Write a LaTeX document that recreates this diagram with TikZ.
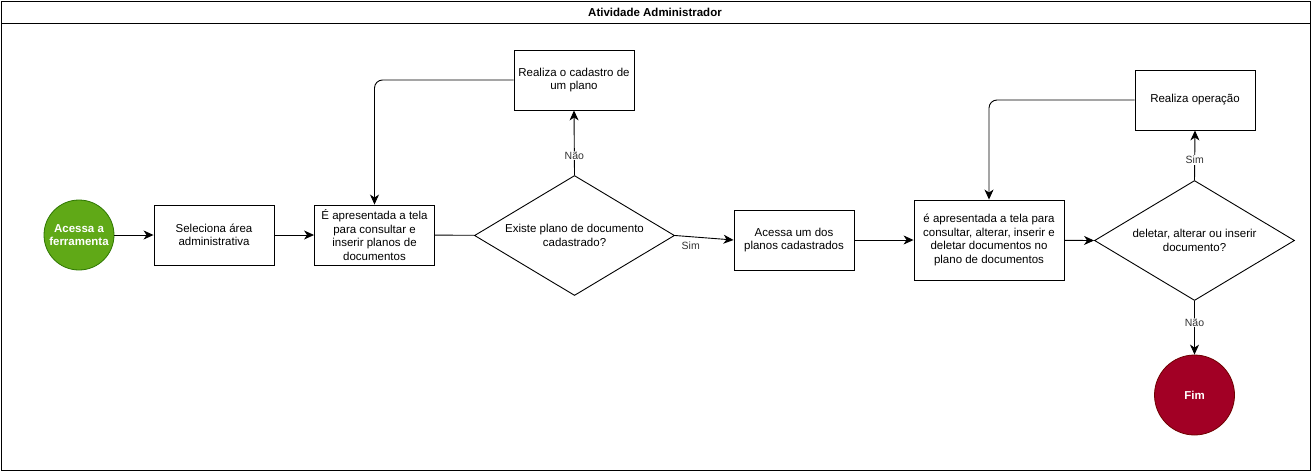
\documentclass[tikz,border=0pt]{standalone}
\usepackage{fontspec}
\setmainfont{Liberation Sans}
\usetikzlibrary{arrows.meta,shapes.geometric}
\definecolor{startg}{HTML}{60A917}
\definecolor{startgs}{HTML}{2D7600}
\definecolor{endr}{HTML}{A20025}
\definecolor{endrs}{HTML}{6F0000}
\definecolor{lbl}{HTML}{333333}
\begin{document}
\begin{tikzpicture}[x=1pt,y=-1pt,
  font=\fontsize{11.5}{13.5}\selectfont,
  proc/.style={draw,line width=0.9pt,minimum width=#1,align=center,inner sep=1pt},
  proc/.default=120pt,
  dec/.style={draw,line width=0.9pt,diamond,aspect=1.667,inner sep=0pt,minimum width=200pt,minimum height=120pt,align=center},
  term/.style={circle,draw,line width=0.8pt,minimum size=#1,inner sep=0pt,text=white,font=\fontsize{11.5}{13.5}\selectfont\bfseries,align=center},
  conn/.style={line width=0.9pt,-{Stealth[length=10pt,width=9pt,inset=3pt]}},
  plain/.style={line width=0.9pt},
  elabel/.style={fill=white,text=lbl,font=\fontsize{10.5}{12.5}\selectfont,inner sep=1pt}
]
\useasboundingbox (0,0) rectangle (1311,471);
\draw[line width=1pt] (1,1) rectangle (1310,470);
\draw[line width=1pt] (1,23) -- (1310,23);
\node[font=\fontsize{11.5}{13.5}\selectfont\bfseries] (title) at (655,12) {Atividade Administrador};

\node[term=70pt,fill=startg,draw=startgs] (start) at (79,235) {Acessa a\\ferramenta};
\node[proc,minimum height=60pt] (sel) at (214,235) {Seleciona área\\administrativa};
\node[proc,minimum height=60pt] (e1) at (374.5,235) {É apresentada a tela\\para consultar e\\inserir planos de\\documentos};
\node[dec] (d1) at (574.5,235.5) {Existe plano de documento\\cadastrado?};
\node[proc,minimum height=60pt] (cad) at (574,80) {Realiza o cadastro de\\um plano};
\node[proc,minimum height=60pt] (ac) at (794,240) {Acessa um dos\\planos cadastrados};
\node[proc=150pt,minimum height=80pt] (e2) at (989,240) {é apresentada a tela para\\consultar, alterar, inserir e\\deletar documentos no\\plano de documentos};
\node[dec] (d2) at (1194.5,240.5) {deletar, alterar ou inserir\\documento?};
\node[proc,minimum height=60pt] (op) at (1195,100) {Realiza operação};
\node[term=80pt,fill=endr,draw=endrs] (fim) at (1194.5,395) {Fim};

\draw[conn] (start) -- (sel);
\draw[conn] (sel) -- (e1);
\draw[plain] (e1) -- (d1);
\draw[conn] (d1.north) -- node[elabel,pos=0.3] {Não} (cad.south);
\draw[conn,rounded corners=8pt] (cad.west) -| (e1.north);
\draw[conn] (d1.east) -- node[elabel,pos=0.27,below=4pt] {Sim} (ac.west);
\draw[conn] (ac) -- (e2);
\draw[conn] (e2) -- (d2.west);
\draw[conn] (d2.north) -- node[elabel,pos=0.4] {Sim} (op.south);
\draw[conn,rounded corners=8pt] (op.west) -| (e2.north);
\draw[conn] (d2.south) -- node[elabel,pos=0.4] {Não} (fim.north);
\end{tikzpicture}
\end{document}
